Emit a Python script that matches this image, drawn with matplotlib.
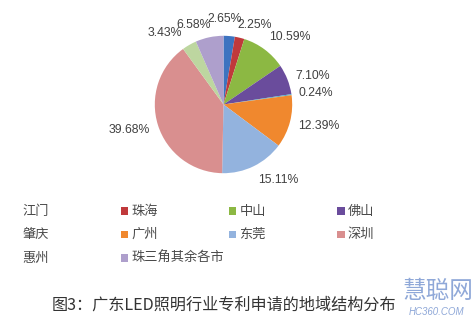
import matplotlib
matplotlib.use("Agg")
import matplotlib.pyplot as plt
import numpy as np
from matplotlib.patches import Rectangle

plt.rcParams['font.family'] = ['Liberation Sans', 'Noto Sans CJK SC', 'DejaVu Sans']

# ---- data ----
regions = ['江门', '珠海', '中山', '佛山', '肇庆', '广州', '东莞', '深圳', '惠州', '珠三角其余各市']
shares = [2.65, 2.25, 10.59, 7.10, 0.24, 12.39, 15.11, 39.68, 3.43, 6.58]
title = '图3：广东LED照明行业专利申请的地域结构分布'

# ---- style ----
colors = ['#3D73C0', '#C0393B', '#8CB843', '#6A4C9C', '#4BACC6',
          '#F0882E', '#93B3DE', '#D98F8F', '#BDD6A0', '#AE9FCC']
label_angle_shift = [4.1, -7.7, -7.9, -3.6, -1.4, 2.0, 10.1, -2.6, 9.5, 8.7]
label_radius = [1.245, 1.242, 1.379, 1.370, 1.349, 1.416, 1.360, 1.423, 1.345, 1.237]

W, H = 477, 326
fig = plt.figure(figsize=(W / 100, H / 100), dpi=100)
fig.patch.set_facecolor('white')

cx, cy, R = 223.5, 104.5, 68.7
ax = fig.add_axes([(cx - R) / W, (H - cy - R) / H, 2 * R / W, 2 * R / H])
wedges, _ = ax.pie(shares, colors=colors, startangle=90, counterclock=False,
                   radius=1.0, wedgeprops=dict(linewidth=0))
ax.set_xlim(-1, 1)
ax.set_ylim(-1, 1)
ax.set_aspect('auto')
ax.axis('off')

for w, v, da, r in zip(wedges, shares, label_angle_shift, label_radius):
    mid = np.deg2rad((w.theta1 + w.theta2) / 2 + da)
    ax.text(r * np.cos(mid), r * np.sin(mid), f'{v:.2f}%', ha='center', va='center',
            fontsize=8.8, color='#404040', clip_on=False)

# ---- legend (row-major, 4 columns; first column markers are cut off) ----
for i, (name, col) in enumerate(zip(regions, colors)):
    row, c = divmod(i, 4)
    mx = 120.5 + (c - 1) * 108.5
    my = 211 + row * 23.5
    if c > 0:
        fig.add_artist(Rectangle(((mx) / W, (H - my - 3.8) / H), 7.5 / W, 7.5 / H,
                                 transform=fig.transFigure, facecolor=col, edgecolor='none'))
        tx = mx + 10.5
    else:
        tx = 22.7
    fig.text(tx / W, (H - my) / H, name, ha='left', va='center', fontsize=9.5,
             color='#4A4A4A', family=['Noto Sans CJK SC', 'DejaVu Sans'])

# ---- caption ----
fig.text(224 / W, (H - 305) / H, title, ha='center', va='center', fontsize=11.6,
         color='#333333', family=['Noto Sans CJK SC', 'DejaVu Sans'])

# ---- watermark ----
fig.text(438 / W, (H - 292) / H, '慧聪网', ha='center', va='center', fontsize=17,
         color='#8FA8D8', family=['Noto Sans CJK SC', 'DejaVu Sans'])
fig.text(437 / W, (H - 312) / H, 'HC360.COM', ha='center', va='center', fontsize=7,
         color='#8FA8D8', style='italic')

fig.savefig('out.png', dpi=100, facecolor='white')
